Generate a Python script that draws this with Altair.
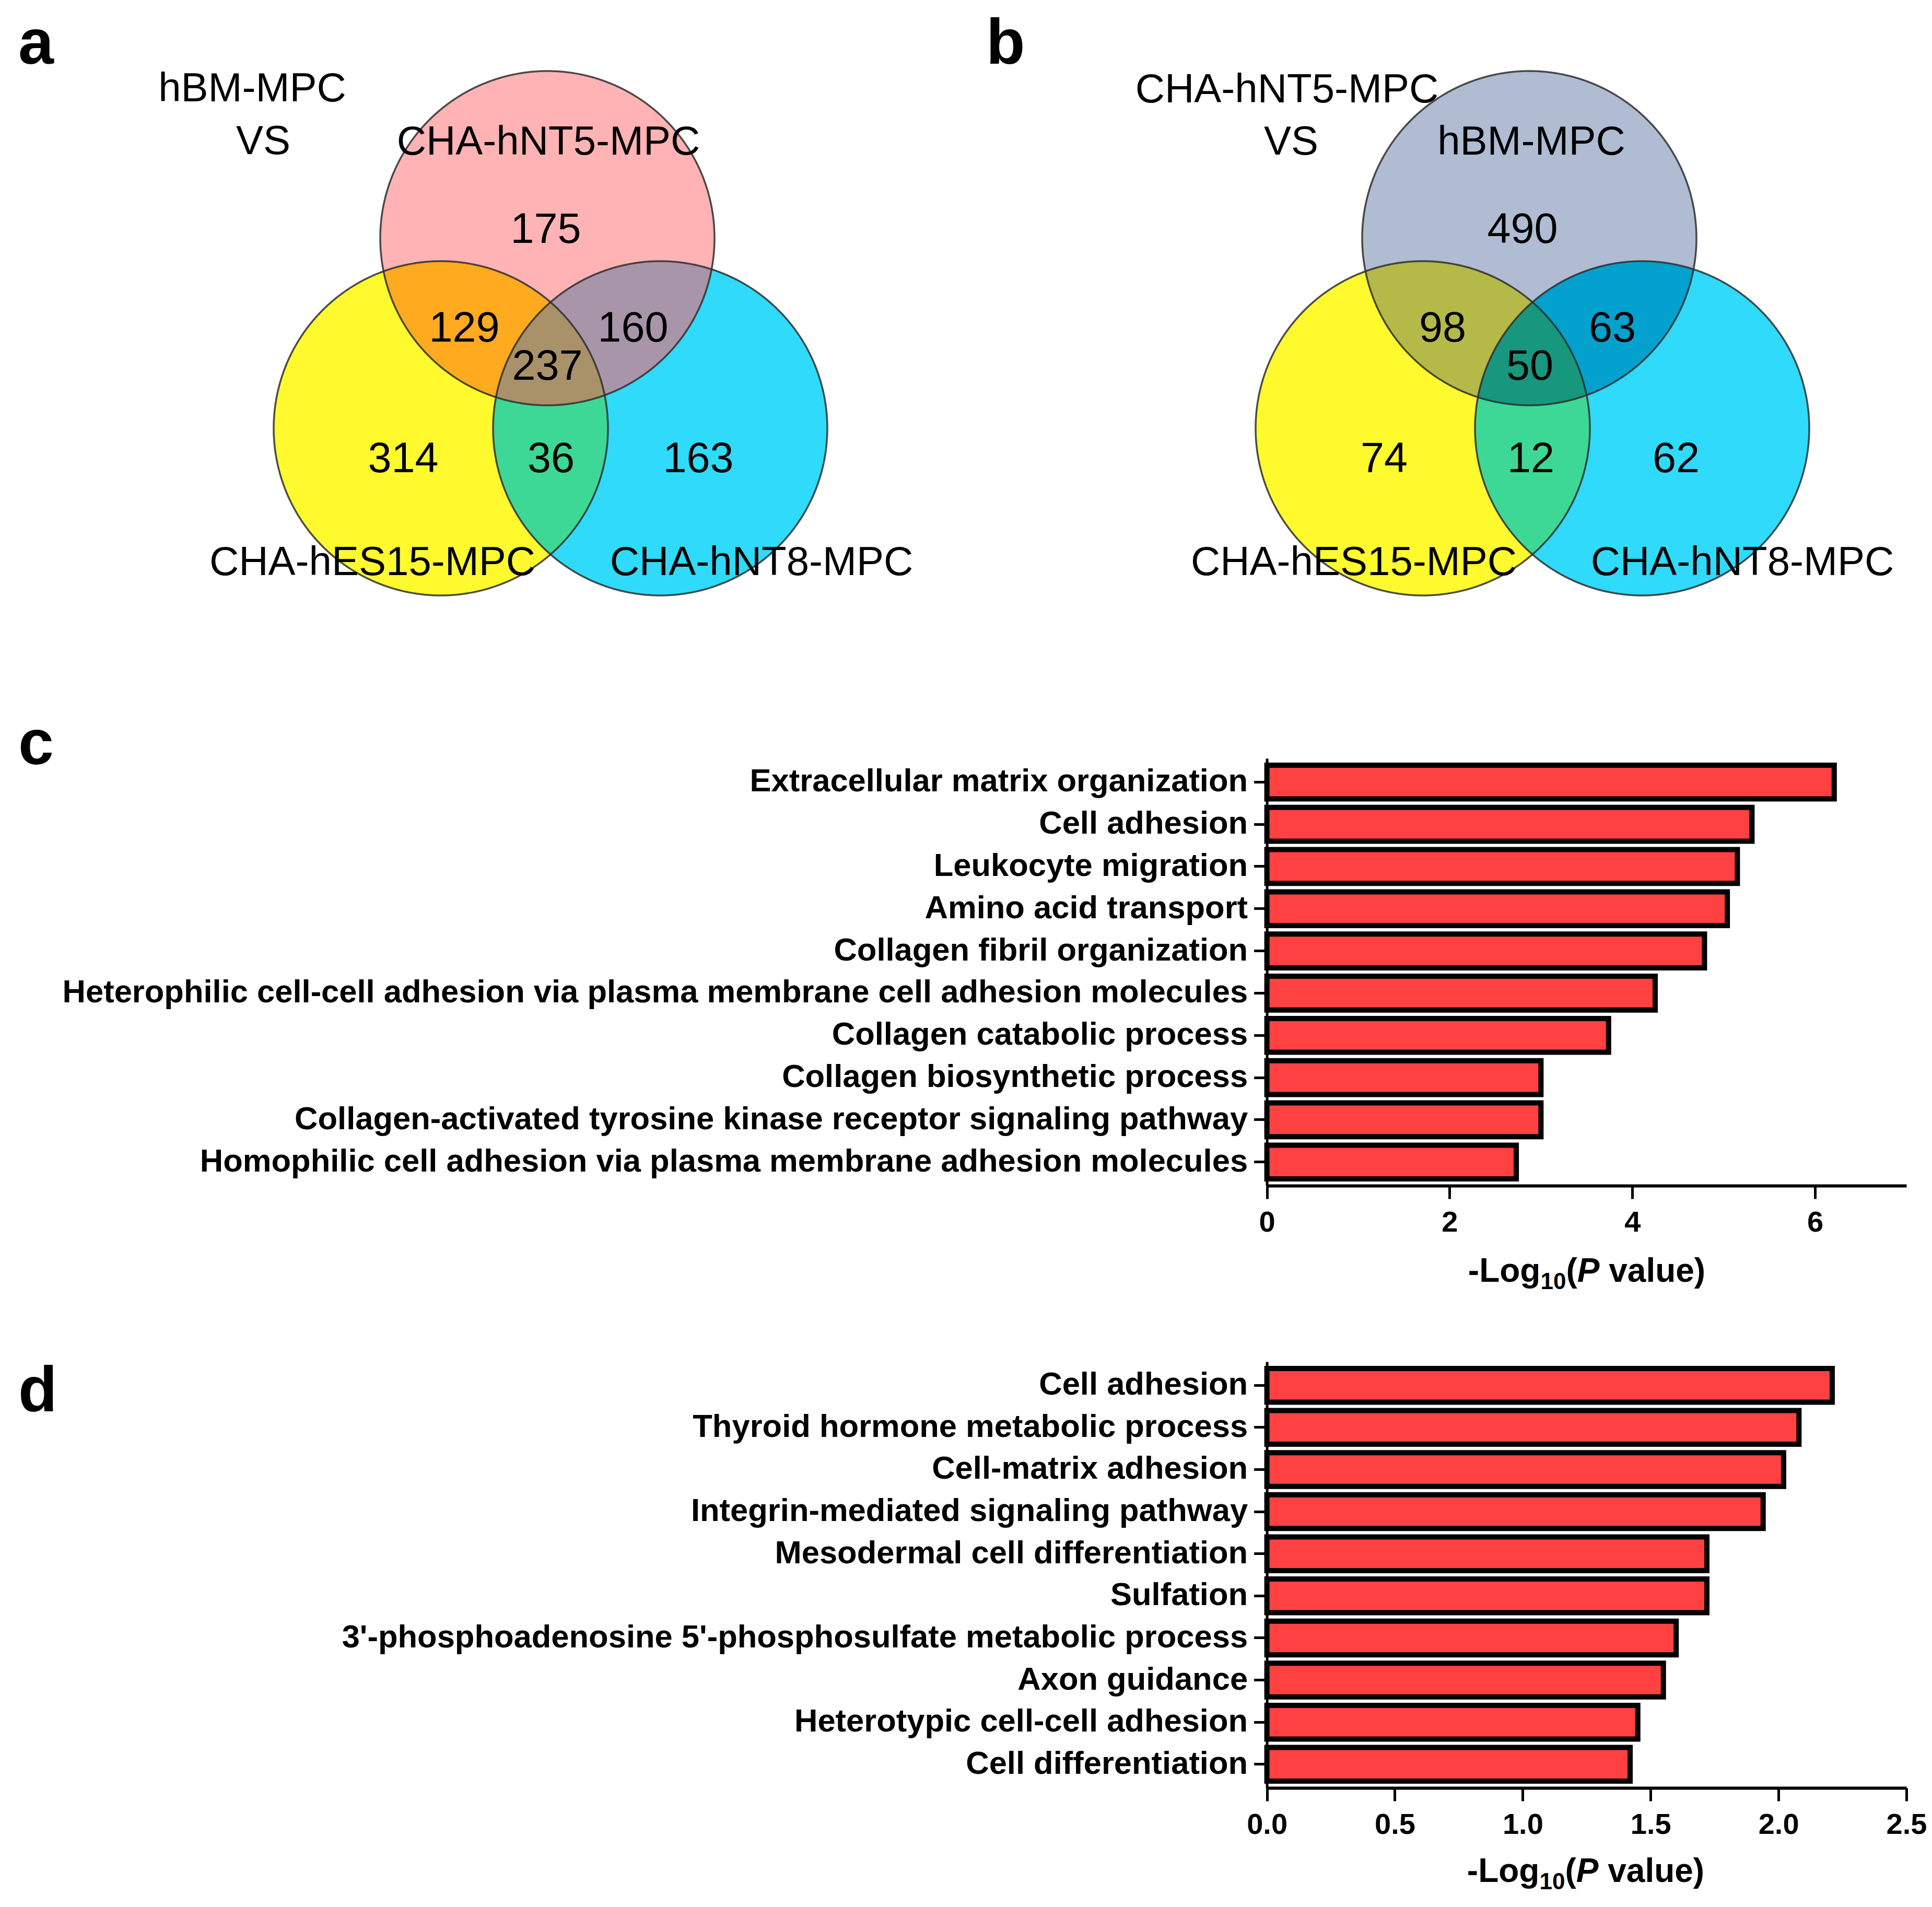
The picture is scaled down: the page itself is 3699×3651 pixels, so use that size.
import altair as alt
import numpy as np
import pandas as pd

# ---------------- data ----------------
c_terms = [
    "Extracellular matrix organization",
    "Cell adhesion",
    "Leukocyte migration",
    "Amino acid transport",
    "Collagen fibril organization",
    "Heterophilic cell-cell adhesion via plasma membrane cell adhesion molecules",
    "Collagen catabolic process",
    "Collagen biosynthetic process",
    "Collagen-activated tyrosine kinase receptor signaling pathway",
    "Homophilic cell adhesion via plasma membrane adhesion molecules",
]
c_values = [6.21, 5.31, 5.15, 5.04, 4.79, 4.25, 3.74, 3.00, 3.00, 2.73]

d_terms = [
    "Cell adhesion",
    "Thyroid hormone metabolic process",
    "Cell-matrix adhesion",
    "Integrin-mediated signaling pathway",
    "Mesodermal cell differentiation",
    "Sulfation",
    "3'-phosphoadenosine 5'-phosphosulfate metabolic process",
    "Axon guidance",
    "Heterotypic cell-cell adhesion",
    "Cell differentiation",
]
d_values = [2.21, 2.08, 2.02, 1.94, 1.72, 1.72, 1.60, 1.55, 1.45, 1.42]

c_ticks = [0, 2, 4, 6]
d_ticks = [0.0, 0.5, 1.0, 1.5, 2.0, 2.5]

# Venn counts: top only, top&left, top&right, all three, left only, left&right, right only
venn_a_counts = [175, 129, 160, 237, 314, 36, 163]
venn_b_counts = [490, 98, 63, 50, 74, 12, 62]
venn_a_sets = ["CHA-hNT5-MPC", "CHA-hES15-MPC", "CHA-hNT8-MPC"]
venn_b_sets = ["hBM-MPC", "CHA-hES15-MPC", "CHA-hNT8-MPC"]
venn_a_header = ["hBM-MPC", "VS"]
venn_b_header = ["CHA-hNT5-MPC", "VS"]

# ---------------- layout (page pixels) ----------------
FONT = "Liberation Sans"
OFF = 8
W, H = 3683, 3635
R = 320
PANEL_SHIFT = 1880
centers_a = [(1048, 456), (844, 820), (1264, 820)]  # top, left, right
centers_b = [(x + PANEL_SHIFT, y) for x, y in centers_a]

cols_a = {"top": "#FFB3B4", "left": "#FFFA2E", "right": "#2FDAFA",
          "tl": "#FFAA1F", "tr": "#A995AA", "lr": "#3DD896", "all": "#A99169"}
cols_b = {"top": "#AFBCD2", "left": "#FFFA2E", "right": "#2FDAFA",
          "tl": "#B4B947", "tr": "#02A1CE", "lr": "#3DD896", "all": "#16977E"}

# label anchors (centre x, baseline y)
num_pos_a = [(1045, 465), (889, 654), (1212, 654), (1048, 727), (772, 904), (1055, 904), (1337, 904)]
num_pos_b = [(2915, 465), (2762, 654), (3087, 654), (2929, 727), (2650, 904), (2931, 904), (3209, 904)]
set_pos_a = [(1050, 296), (713, 1101), (1458, 1101)]
set_pos_b = [(2932, 296), (2592, 1101), (3336, 1101)]
head_pos_a = [(483, 194), (504, 295)]
head_pos_b = [(2464, 196), (2472, 296)]

letters = ["a", "b", "c", "d"]
letter_pos = [(35, 122), (1888, 122), (35, 1463), (35, 2702)]


def circle_pts(cx, cy, r, n=1440):
    t = np.linspace(0, 2 * np.pi, n, endpoint=False)
    return np.c_[cx + r * np.cos(t), cy + r * np.sin(t)]


def intersection_ring(circles):
    pts = []
    for i, (cx, cy) in enumerate(circles):
        p = circle_pts(cx, cy, R)
        m = np.ones(len(p), bool)
        for j, (cx2, cy2) in enumerate(circles):
            if j != i:
                m &= np.hypot(p[:, 0] - cx2, p[:, 1] - cy2) <= R + 1e-6
        pts.append(p[m])
    P = np.vstack(pts)
    c = P.mean(0)
    P = P[np.argsort(np.arctan2(P[:, 1] - c[1], P[:, 0] - c[0]))]
    ring = np.round(P, 2).tolist()
    return ring + [ring[0]]


def feature(ring, fill):
    return {"type": "Feature", "properties": {"fill": fill},
            "geometry": {"type": "Polygon", "coordinates": [ring]}}


region_feats, outline_feats = [], []
for cen, cols in [(centers_a, cols_a), (centers_b, cols_b)]:
    top, left, right = cen
    for key, c in [("left", left), ("right", right), ("top", top)]:
        region_feats.append(feature(intersection_ring([c]), cols[key]))
    region_feats.append(feature(intersection_ring([top, left]), cols["tl"]))
    region_feats.append(feature(intersection_ring([top, right]), cols["tr"]))
    region_feats.append(feature(intersection_ring([left, right]), cols["lr"]))
    region_feats.append(feature(intersection_ring([top, left, right]), cols["all"]))
    for c in cen:
        outline_feats.append(feature(intersection_ring([c]), "none"))

regions = alt.Chart(alt.Data(values=region_feats)).mark_geoshape(strokeWidth=0).encode(
    color=alt.Color("properties.fill:N", scale=None)
).project(type="identity", scale=1, translate=[-OFF, -OFF])

outlines = alt.Chart(alt.Data(values=outline_feats)).mark_geoshape(
    filled=False, stroke="#2e2e2e", strokeWidth=3.5, strokeOpacity=0.85
).project(type="identity", scale=1, translate=[-OFF, -OFF])

venn_text_rows = []
for counts, pos in [(venn_a_counts, num_pos_a), (venn_b_counts, num_pos_b)]:
    for v, (x, y) in zip(counts, pos):
        venn_text_rows.append({"x": x, "y": y, "t": str(v), "fs": 81})
for names, pos in [(venn_a_sets, set_pos_a), (venn_b_sets, set_pos_b),
                   (venn_a_header, head_pos_a), (venn_b_header, head_pos_b)]:
    for s, (x, y) in zip(names, pos):
        venn_text_rows.append({"x": x, "y": y, "t": s, "fs": 78})

venn_text = alt.Chart(pd.DataFrame(venn_text_rows)).mark_text(
    font=FONT, align="center", baseline="alphabetic", color="black"
).encode(
    longitude="x:Q", latitude="y:Q", text="t:N", size=alt.Size("fs:Q", scale=None)
).project(type="identity", scale=1, translate=[-OFF, -OFF])

letter_df = pd.DataFrame({"t": letters, "x": [p[0] for p in letter_pos], "y": [p[1] for p in letter_pos]})
letter_text = alt.Chart(letter_df).mark_text(
    font=FONT, fontSize=122, fontWeight="bold", align="left", baseline="alphabetic", color="black"
).encode(longitude="x:Q", latitude="y:Q", text="t:N").project(
    type="identity", scale=1, translate=[-OFF, -OFF])

# ---------------- bar charts ----------------
X0, X1 = 2425.6 - OFF, 3650 - OFF
c_range = [1452 - OFF, 2270 - OFF]
d_range = [2607 - OFF, 3423 - OFF]


def bars(terms, values, domain, ticks, fmt, yr, fx, fy):
    df = pd.DataFrame({fy: terms, fx: values})
    return alt.Chart(df).mark_bar(fill="#FF4141", stroke="black", strokeWidth=10).encode(
        x=alt.X(f"{fx}:Q",
                scale=alt.Scale(domain=domain, range=[X0, X1], nice=False, zero=True),
                axis=alt.Axis(orient="bottom", offset=-(H - yr[1]), values=ticks, format=fmt,
                              title=None, grid=False, domainColor="black", domainWidth=6,
                              tickColor="black", tickWidth=5, tickSize=25,
                              labelFont=FONT, labelFontSize=56, labelFontWeight="bold",
                              labelColor="black", labelPadding=18, labelFlush=False,
                              labelOverlap=False)),
        y=alt.Y(f"{fy}:N", sort=terms,
                scale=alt.Scale(range=yr, paddingInner=0.2, paddingOuter=0.16),
                axis=alt.Axis(orient="left", offset=-X0, title=None, grid=False,
                              domainColor="black", domainWidth=5, tickColor="black",
                              tickWidth=5, tickSize=25, labelFont=FONT, labelFontSize=61.5,
                              labelFontWeight="bold", labelColor="black", labelPadding=12,
                              labelLimit=0)),
    )


bar_c = bars(c_terms, c_values, [0, 7], c_ticks, "d", c_range, "c_val", "c_term")
bar_d = bars(d_terms, d_values, [0, 2.5], d_ticks, ".1f", d_range, "d_val", "d_term")

# ---------------- axis titles:  -Log10(P value) ----------------
AB = {'-': 333, 'L': 611, 'o': 611, 'g': 611, '1': 556, '0': 556, '(': 333, 'P': 667,
      ' ': 278, 'v': 556, 'a': 556, 'l': 278, 'u': 611, 'e': 556, ')': 333}


def tw(s, size):
    return sum(AB[ch] for ch in s) * size / 1000.0


TF, SF, SUB = 64, 44, 14
title_centres = [(3038, 2454), (3036, 3603)]
norm_rows, ital_rows = [], []
for cx, by in title_centres:
    total = tw("-Log", TF) + tw("10", SF) + tw("(P value)", TF)
    x = cx - total / 2
    norm_rows.append({"x": x, "y": by, "t": "-Log", "fs": TF}); x += tw("-Log", TF)
    norm_rows.append({"x": x, "y": by + SUB, "t": "10", "fs": SF}); x += tw("10", SF)
    norm_rows.append({"x": x, "y": by, "t": "(", "fs": TF}); x += tw("(", TF)
    ital_rows.append({"x": x, "y": by, "t": "P", "fs": TF}); x += tw("P ", TF)
    norm_rows.append({"x": x, "y": by, "t": "value)", "fs": TF})

title_norm = alt.Chart(pd.DataFrame(norm_rows)).mark_text(
    font=FONT, fontWeight="bold", align="left", baseline="alphabetic", color="black"
).encode(longitude="x:Q", latitude="y:Q", text="t:N", size=alt.Size("fs:Q", scale=None)).project(
    type="identity", scale=1, translate=[-OFF, -OFF])
title_ital = alt.Chart(pd.DataFrame(ital_rows)).mark_text(
    font=FONT, fontWeight="bold", fontStyle="italic", align="left", baseline="alphabetic",
    color="black"
).encode(longitude="x:Q", latitude="y:Q", text="t:N", size=alt.Size("fs:Q", scale=None)).project(
    type="identity", scale=1, translate=[-OFF, -OFF])

chart = alt.layer(
    regions, outlines, venn_text, letter_text, bar_c, bar_d, title_norm, title_ital
).resolve_scale(
    x="independent", y="independent", size="independent"
).resolve_axis(
    x="independent", y="independent"
).properties(
    width=W, height=H, padding=0, autosize=alt.AutoSizeParams(type="none"),
    background="white"
).configure_view(strokeWidth=0)

chart.save("out.html", embed_options={"renderer": "svg", "actions": False})
